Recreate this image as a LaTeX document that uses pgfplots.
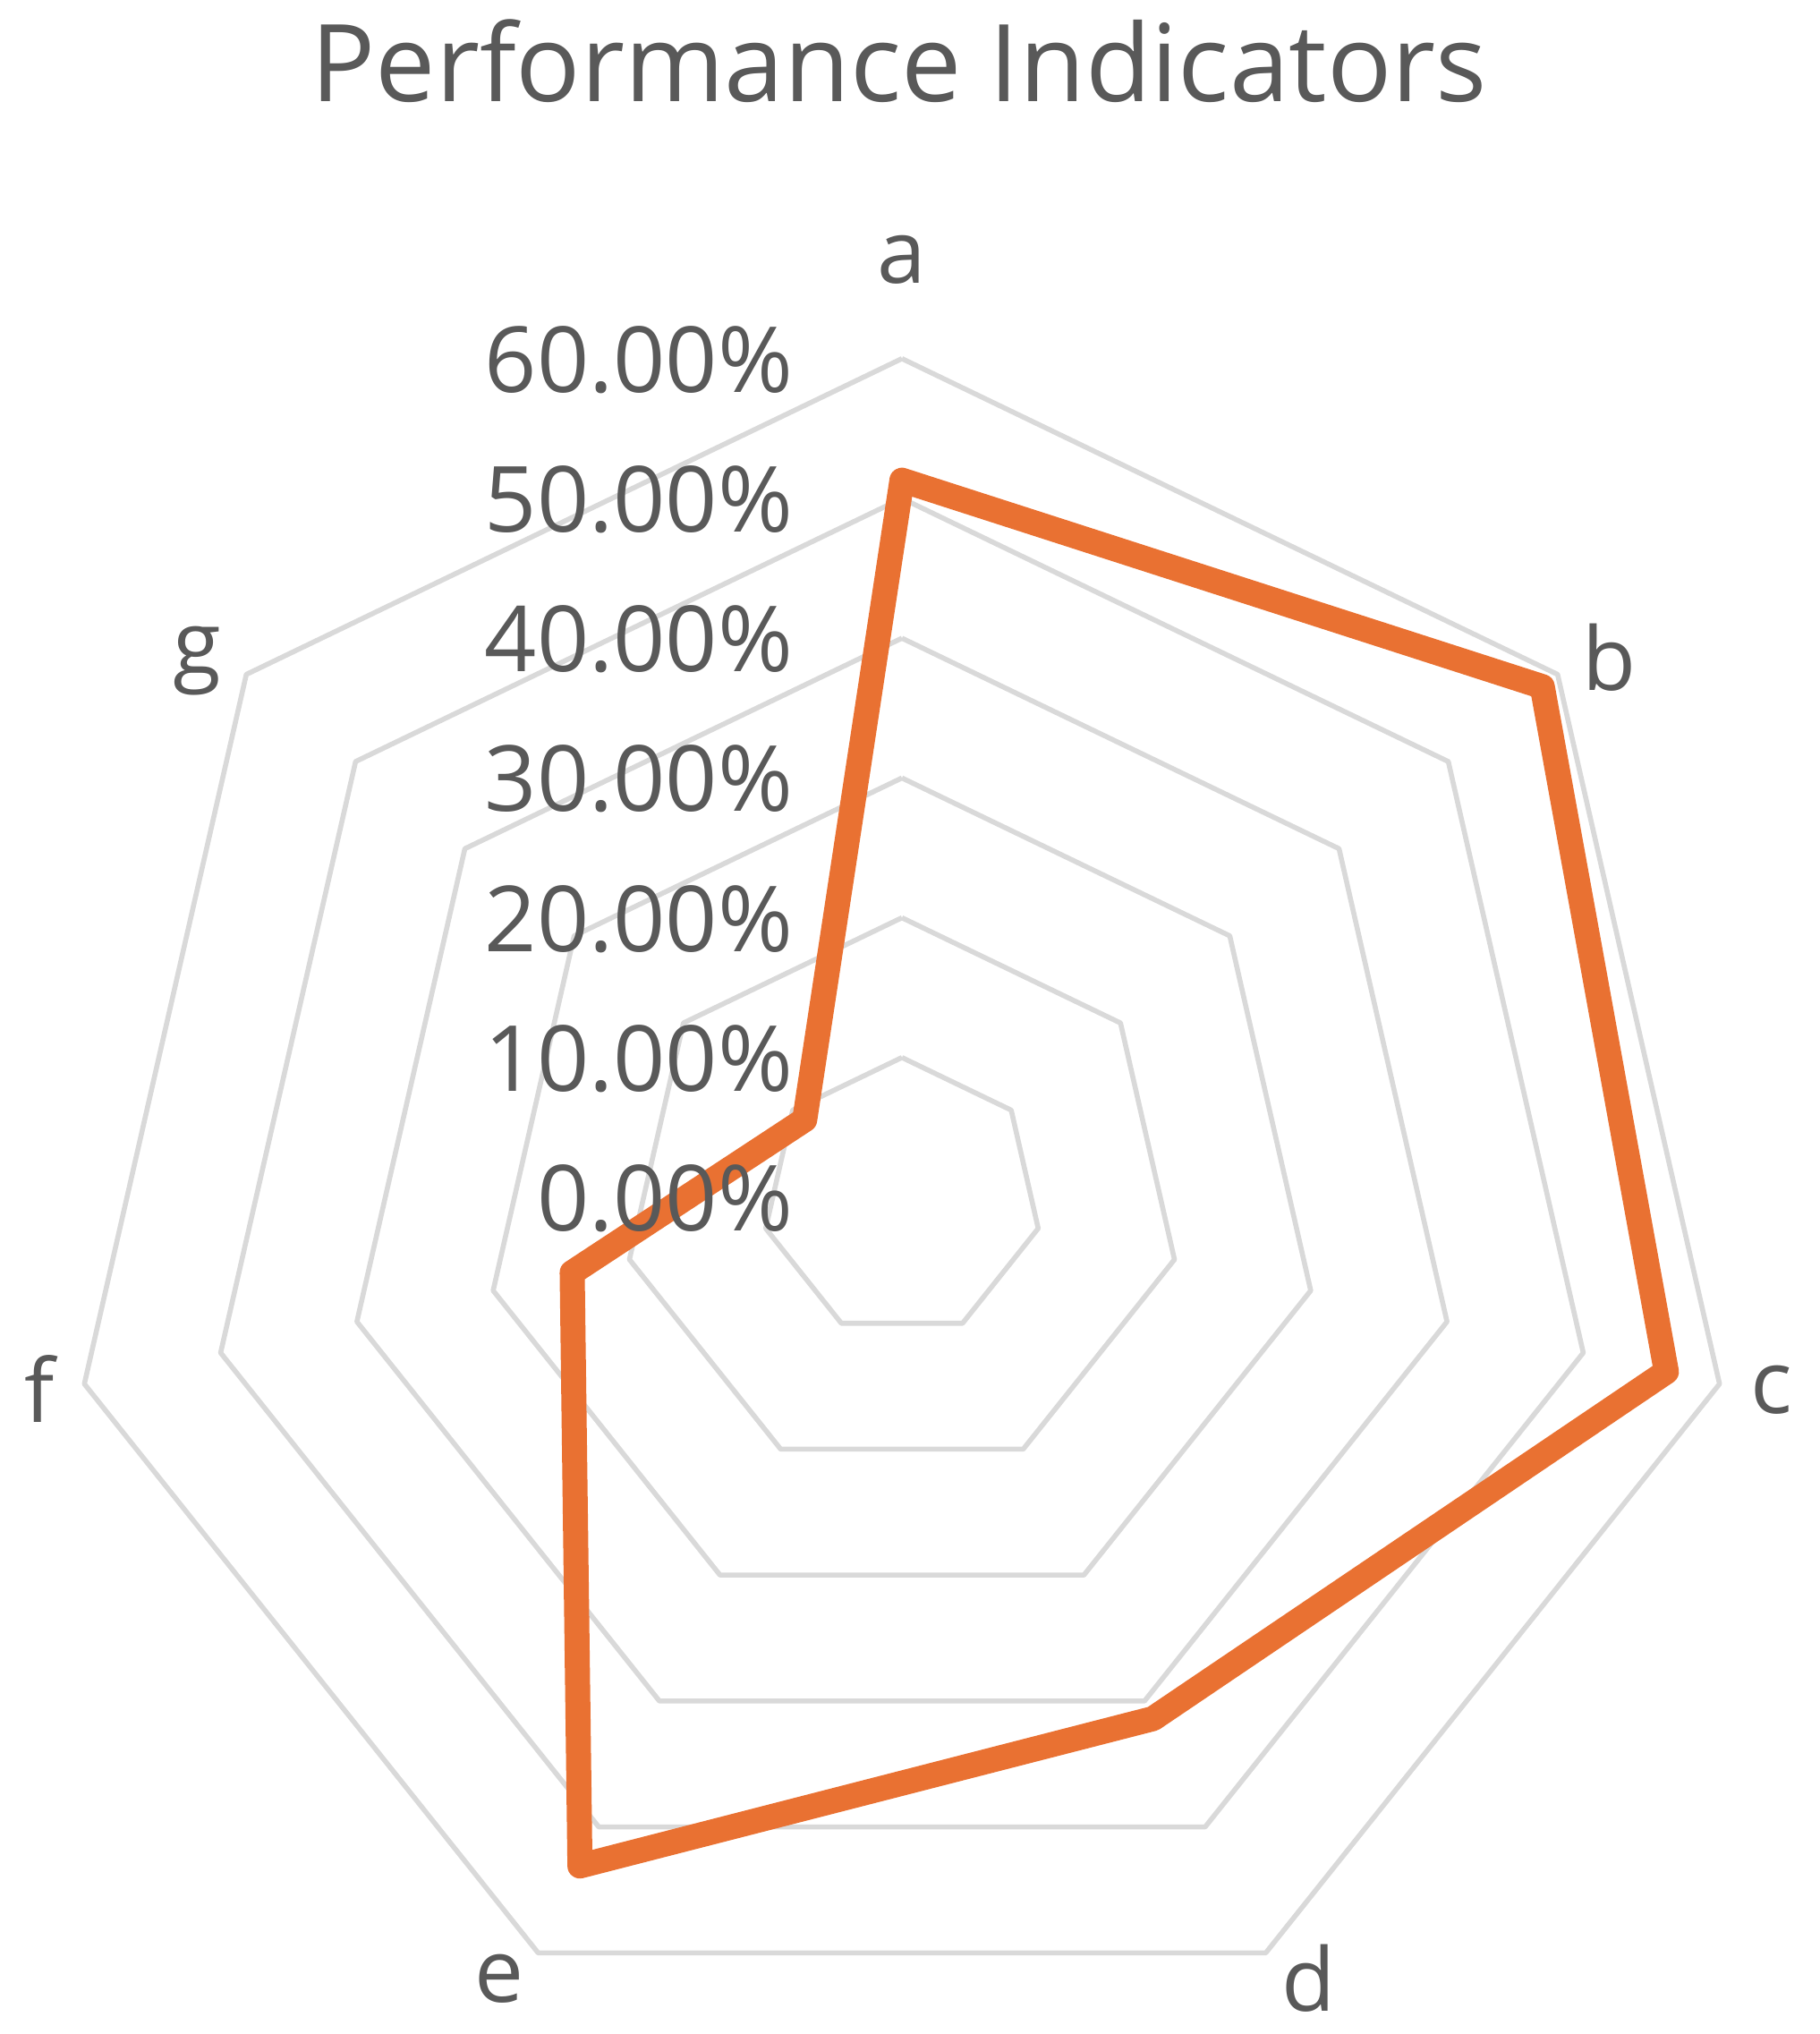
\documentclass[border=0pt]{standalone}
\usepackage{pgfplots}
\pgfplotsset{compat=1.18}
\usepackage{fontspec}
\setmainfont{Open Sans}
\definecolor{txt}{HTML}{595959}
\definecolor{gridc}{HTML}{D9D9D9}
\definecolor{ser}{HTML}{E97132}
\begin{document}
\begin{tikzpicture}
\begin{axis}[
  scale only axis, width=508.25pt, height=568.25pt,
  xmin=-64.53, xmax=65.62, ymin=-59.86, ymax=85.66,
  hide axis, clip=false,
]
\path (rel axis cs:0,0) rectangle (rel axis cs:1,1);
% grid heptagons
\pgfplotsinvokeforeach{10,20,30,40,50,60}{
  \addplot[data cs=polar, draw=gridc, line width=1.4pt, line join=round, no marks]
    coordinates {(90,#1) (38.5714,#1) (-12.8571,#1) (-64.2857,#1) (-115.7143,#1) (-167.1429,#1) (141.4286,#1) (90,#1)};
}
% data series: a b c d e f g
\addplot[data cs=polar, draw=ser, line width=7pt, line join=round, line cap=round, no marks]
  coordinates {(90,51.3) (38.5714,58.6) (-12.8571,56.1) (-64.2857,41.4) (-115.7143,53.1) (-167.1429,24.2) (141.4286,8.9) (90,51.3)};
% tick labels
\begin{scope}[every node/.style={text=txt, inner sep=0pt, font=\fontsize{25.5}{30}\selectfont}]
\node[anchor=base east] at (axis cs:-7.75,57.6) {60.00\%};
\node[anchor=base east] at (axis cs:-7.75,47.6) {50.00\%};
\node[anchor=base east] at (axis cs:-7.75,37.6) {40.00\%};
\node[anchor=base east] at (axis cs:-7.75,27.6) {30.00\%};
\node[anchor=base east] at (axis cs:-7.75,17.6) {20.00\%};
\node[anchor=base east] at (axis cs:-7.75,7.6) {10.00\%};
\node[anchor=base east] at (axis cs:-7.75,-2.4) {0.00\%};
\end{scope}
\begin{scope}[every node/.style={text=txt, inner sep=0pt, font=\fontsize{24.5}{29}\selectfont}]
\node at (axis cs:0,67.1) {a};
\node at (axis cs:50.6,38.6) {b};
\node at (axis cs:62.2,-13.8) {c};
\node at (axis cs:29.1,-55.9) {d};
\node at (axis cs:-28.8,-55.9) {e};
\node at (axis cs:-61.7,-13.7) {f};
\node at (axis cs:-50.4,38.4) {g};
\end{scope}
\node[anchor=base, text=txt, inner sep=0pt, font=\fontsize{30}{36}\selectfont] at (axis cs:-0.2,78.4) {Performance Indicators};
\end{axis}
\end{tikzpicture}
\end{document}
